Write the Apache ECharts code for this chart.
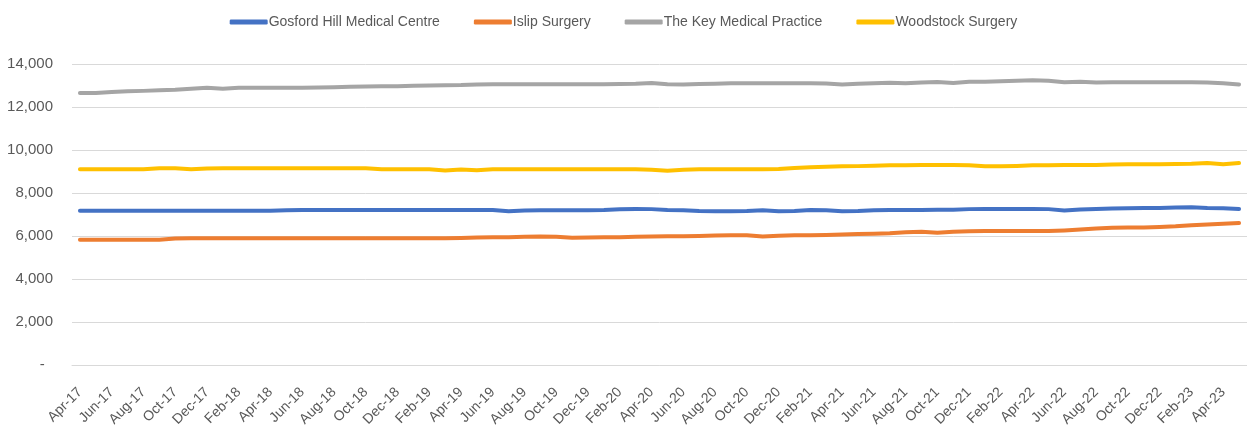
<!DOCTYPE html>
<html><head><meta charset="utf-8">
<script src="https://cdn.jsdelivr.net/npm/echarts@6/dist/echarts.min.js"></script>
<style>html,body{margin:0;padding:0;background:#fff}#c{width:1247px;height:439px}</style>
</head><body><div id="c"></div>
<script>
const months = ["Apr-17","May-17","Jun-17","Jul-17","Aug-17","Sep-17","Oct-17","Nov-17","Dec-17","Jan-18","Feb-18","Mar-18",
"Apr-18","May-18","Jun-18","Jul-18","Aug-18","Sep-18","Oct-18","Nov-18","Dec-18","Jan-19","Feb-19","Mar-19",
"Apr-19","May-19","Jun-19","Jul-19","Aug-19","Sep-19","Oct-19","Nov-19","Dec-19","Jan-20","Feb-20","Mar-20",
"Apr-20","May-20","Jun-20","Jul-20","Aug-20","Sep-20","Oct-20","Nov-20","Dec-20","Jan-21","Feb-21","Mar-21",
"Apr-21","May-21","Jun-21","Jul-21","Aug-21","Sep-21","Oct-21","Nov-21","Dec-21","Jan-22","Feb-22","Mar-22",
"Apr-22","May-22","Jun-22","Jul-22","Aug-22","Sep-22","Oct-22","Nov-22","Dec-22","Jan-23","Feb-23","Mar-23",
"Apr-23","May-23"];
const seriesNames = ["Gosford Hill Medical Centre","Islip Surgery","The Key Medical Practice","Woodstock Surgery"];
const gosford = [7170,7170,7170,7170,7170,7170,7170,7170,7170,7170,7170,7170,
7180,7200,7210,7210,7210,7210,7210,7210,7210,7210,7210,7210,
7210,7210,7210,7150,7190,7200,7200,7200,7200,7210,7240,7260,
7250,7210,7200,7160,7150,7150,7160,7200,7150,7160,7210,7200,
7150,7160,7200,7210,7210,7210,7220,7220,7250,7260,7260,7260,
7260,7250,7190,7230,7260,7280,7290,7300,7300,7330,7340,7300,
7290,7260];
const islip = [5830,5830,5830,5830,5830,5830,5880,5890,5900,5900,5900,5900,
5900,5900,5900,5900,5900,5900,5900,5900,5900,5900,5900,5900,
5910,5930,5940,5940,5960,5980,5970,5920,5930,5940,5940,5960,
5980,5990,5990,6000,6020,6030,6030,5980,6010,6030,6040,6050,
6070,6090,6110,6130,6170,6200,6150,6200,6220,6230,6230,6230,
6230,6230,6260,6300,6350,6380,6400,6400,6420,6450,6500,6540,
6570,6600];
const keyPractice = [12650,12650,12700,12730,12750,12780,12800,12850,12900,12850,12890,12900,
12900,12900,12900,12910,12920,12940,12950,12960,12970,12990,13000,13010,
13020,13050,13060,13060,13060,13060,13060,13060,13060,13060,13070,13080,
13120,13060,13050,13070,13080,13100,13100,13100,13100,13100,13100,13090,
13050,13080,13100,13130,13100,13140,13160,13120,13170,13180,13200,13220,
13240,13220,13150,13180,13140,13150,13150,13150,13150,13150,13150,13140,
13100,13050];
const woodstock = [9100,9100,9100,9100,9110,9150,9150,9100,9140,9150,9150,9150,
9150,9150,9150,9150,9150,9150,9150,9110,9100,9100,9100,9050,
9090,9060,9100,9100,9100,9100,9100,9100,9100,9100,9100,9100,
9080,9040,9080,9100,9100,9100,9100,9110,9120,9160,9200,9220,
9240,9250,9270,9290,9290,9300,9300,9300,9290,9240,9240,9260,
9290,9290,9300,9300,9300,9330,9340,9340,9340,9350,9360,9400,
9340,9390];
const colors = ["#4472C4","#ED7D31","#A5A5A5","#FFC000"];
const allData = [gosford, islip, keyPractice, woodstock];

const font = "'Liberation Sans',Arial,sans-serif";
const chart = echarts.init(document.getElementById('c'), null, {renderer:'canvas'});
chart.setOption({
  animation:false,
  color: colors,
  textStyle:{fontFamily:font},
  legend:{
    top:10, left:'center',
    itemWidth:38, itemHeight:5, itemGap:34, icon:'roundRect',
    textStyle:{color:'#595959', fontSize:14, fontFamily:font, padding:[0,0,0,-4]},
    data: seriesNames
  },
  grid:{left:72, right:-2, top:64, bottom:74, containLabel:false},
  xAxis:{
    type:'category', data:months, boundaryGap:true,
    axisLine:{show:true, lineStyle:{color:'#D9D9D9', width:1}},
    axisTick:{show:false},
    axisLabel:{interval:1, rotate:45, color:'#595959', fontSize:14, fontFamily:font, margin:25}
  },
  yAxis:{
    type:'value', min:0, max:14000, interval:2000,
    axisLine:{show:false}, axisTick:{show:false},
    splitLine:{lineStyle:{color:'#D9D9D9', width:1}},
    axisLabel:{color:'#595959', fontSize:15, fontFamily:font, margin:19,
      formatter: v => v === 0 ? '-  ' : v.toLocaleString('en-US')}
  },
  series: seriesNames.map((n,i)=>({
    name:n, type:'line', data:allData[i], showSymbol:false, symbol:'none',
    lineStyle:{width:4, color:colors[i], cap:'round', join:'round'},
    itemStyle:{color:colors[i]}
  }))
});
</script></body></html>
